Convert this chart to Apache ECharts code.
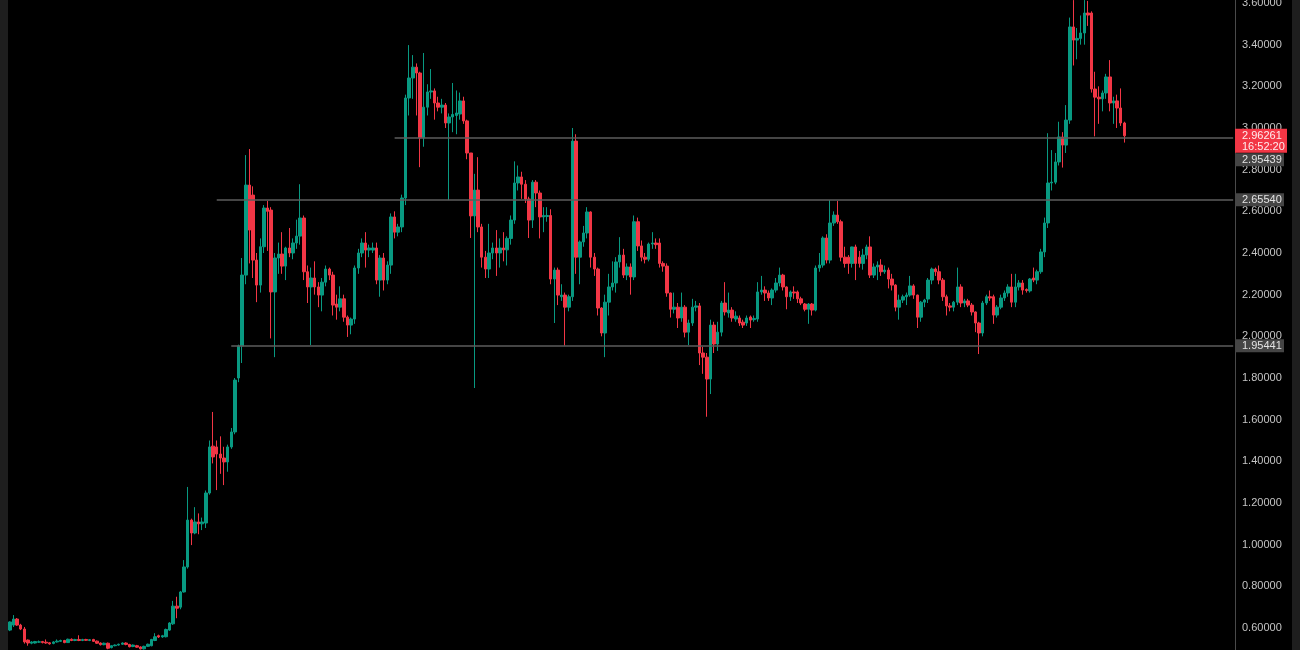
<!DOCTYPE html>
<html><head><meta charset="utf-8">
<script src="https://cdn.jsdelivr.net/npm/echarts/dist/echarts.min.js"></script>
<style>html,body{margin:0;padding:0;background:#000;overflow:hidden}#c{width:1300px;height:650px}</style>
</head><body><div id="c"></div>
<script>
const opens = [
0.590,0.614,0.643,0.614,0.595,0.542,0.527,0.528,0.532,0.535,
0.532,0.529,0.526,0.533,0.536,0.540,0.530,0.546,0.540,0.545,
0.540,0.545,0.540,0.545,0.537,0.528,0.520,0.527,0.506,0.515,
0.518,0.522,0.528,0.521,0.511,0.515,0.509,0.500,0.512,0.515,
0.540,0.563,0.557,0.558,0.590,0.620,0.705,0.700,0.773,0.893,
1.118,1.056,1.109,1.100,1.104,1.248,1.473,1.469,1.435,1.416,
1.397,1.469,1.541,1.800,1.954,2.294,2.726,2.678,2.366,2.246,
2.430,2.616,2.606,2.213,2.376,2.395,2.337,2.424,2.400,2.448,
2.481,2.568,2.310,2.237,2.280,2.237,2.198,2.260,2.323,2.294,
2.155,2.140,2.180,2.092,2.054,2.083,2.328,2.400,2.448,2.414,
2.414,2.424,2.270,2.376,2.270,2.342,2.573,2.500,2.525,2.664,
3.144,3.240,3.292,3.264,2.952,3.100,3.173,3.178,3.120,3.100,
3.110,3.024,3.053,3.060,3.067,3.130,3.034,2.880,2.578,2.702,
2.525,2.380,2.323,2.400,2.424,2.400,2.424,2.415,2.470,2.558,
2.736,2.765,2.730,2.659,2.558,2.740,2.688,2.573,2.575,2.580,
2.275,2.318,2.190,2.198,2.140,2.190,2.937,2.380,2.453,2.496,
2.597,2.380,2.323,2.136,2.016,2.164,2.237,2.256,2.357,2.390,
2.294,2.333,2.285,2.550,2.434,2.380,2.370,2.443,2.448,2.448,
2.350,2.337,2.208,2.130,2.140,2.088,2.140,2.020,2.064,2.140,
2.146,1.920,1.900,1.795,2.054,1.963,2.020,2.160,2.112,2.126,
2.083,2.088,2.068,2.064,2.093,2.080,2.083,2.213,2.222,2.208,
2.184,2.222,2.256,2.294,2.237,2.190,2.213,2.213,2.180,2.155,
2.130,2.155,2.126,2.328,2.342,2.472,2.366,2.544,2.582,2.550,
2.380,2.380,2.350,2.429,2.380,2.350,2.390,2.429,2.294,2.333,
2.342,2.310,2.318,2.275,2.246,2.140,2.174,2.190,2.198,2.242,
2.198,2.092,2.164,2.179,2.270,2.323,2.310,2.270,2.190,2.146,
2.140,2.164,2.237,2.160,2.170,2.150,2.117,2.064,2.016,2.160,
2.190,2.190,2.102,2.140,2.184,2.208,2.237,2.164,2.237,2.256,
2.225,2.218,2.280,2.270,2.310,2.405,2.544,2.736,2.740,2.837,
2.957,2.918,3.038,3.485,3.422,3.430,3.456,3.552,3.552,3.187,
3.148,3.140,3.168,3.245,3.120,3.130,3.096,3.024];
const closes = [
0.629,0.643,0.614,0.595,0.533,0.528,0.533,0.535,0.534,0.530,
0.528,0.524,0.533,0.537,0.540,0.530,0.546,0.540,0.545,0.540,
0.545,0.541,0.544,0.536,0.527,0.520,0.527,0.503,0.515,0.518,
0.522,0.528,0.521,0.510,0.518,0.508,0.500,0.512,0.522,0.545,
0.558,0.557,0.563,0.593,0.624,0.705,0.695,0.773,0.893,1.118,
1.056,1.109,1.100,1.109,1.248,1.469,1.421,1.435,1.416,1.397,
1.469,1.541,1.790,1.954,2.294,2.726,2.510,2.366,2.246,2.430,
2.616,2.600,2.213,2.376,2.395,2.337,2.424,2.400,2.448,2.481,
2.568,2.310,2.237,2.280,2.237,2.198,2.260,2.323,2.294,2.150,
2.140,2.180,2.092,2.054,2.083,2.328,2.400,2.448,2.414,2.424,
2.424,2.270,2.376,2.270,2.342,2.573,2.500,2.525,2.664,3.144,
3.240,3.292,3.264,2.952,3.100,3.173,3.178,3.120,3.100,3.110,
3.024,3.053,3.065,3.072,3.130,3.034,2.880,2.578,2.702,2.525,
2.380,2.323,2.400,2.424,2.400,2.424,2.415,2.470,2.558,2.736,
2.765,2.730,2.659,2.558,2.740,2.688,2.573,2.580,2.580,2.275,
2.318,2.198,2.198,2.140,2.190,2.937,2.380,2.453,2.496,2.597,
2.380,2.323,2.136,2.016,2.164,2.237,2.256,2.357,2.390,2.294,
2.333,2.285,2.550,2.434,2.380,2.370,2.443,2.448,2.440,2.350,
2.337,2.208,2.130,2.140,2.088,2.140,2.020,2.064,2.140,2.146,
1.920,1.900,1.795,2.054,1.963,2.020,2.160,2.117,2.126,2.088,
2.097,2.064,2.054,2.088,2.078,2.086,2.213,2.222,2.208,2.184,
2.222,2.256,2.294,2.237,2.190,2.213,2.208,2.180,2.160,2.130,
2.155,2.126,2.328,2.342,2.472,2.366,2.544,2.582,2.550,2.380,
2.350,2.350,2.429,2.350,2.350,2.390,2.429,2.294,2.333,2.342,
2.310,2.318,2.275,2.246,2.140,2.174,2.190,2.198,2.242,2.198,
2.092,2.164,2.174,2.270,2.323,2.310,2.270,2.190,2.146,2.140,
2.164,2.237,2.160,2.170,2.150,2.117,2.064,2.016,2.160,2.190,
2.184,2.102,2.140,2.184,2.208,2.237,2.164,2.237,2.256,2.222,
2.220,2.275,2.270,2.310,2.405,2.544,2.736,2.740,2.837,2.957,
2.918,3.038,3.485,3.422,3.430,3.456,3.552,3.542,3.187,3.148,
3.140,3.168,3.245,3.120,3.130,3.096,3.024,2.96261];
const lows = [
0.585,0.605,0.610,0.590,0.525,0.515,0.522,0.525,0.528,0.526,
0.524,0.520,0.522,0.530,0.533,0.527,0.528,0.537,0.537,0.537,
0.537,0.538,0.537,0.533,0.524,0.516,0.517,0.498,0.502,0.512,
0.515,0.519,0.517,0.507,0.508,0.505,0.497,0.497,0.509,0.512,
0.537,0.552,0.553,0.555,0.586,0.615,0.647,0.690,0.770,0.885,
0.998,1.050,1.050,1.070,1.080,1.240,1.390,1.262,1.340,1.286,
1.350,1.460,1.530,1.780,1.872,2.250,2.350,2.280,2.164,2.210,
2.400,2.410,1.990,1.900,2.300,2.300,2.270,2.380,2.370,2.420,
2.440,2.270,2.160,1.958,2.200,2.140,2.120,2.240,2.270,2.100,
2.080,2.120,2.070,1.997,2.010,2.060,2.300,2.380,2.330,2.380,
2.400,2.250,2.190,2.220,2.250,2.300,2.470,2.480,2.500,2.630,
3.060,3.140,3.060,2.812,2.910,3.060,3.140,3.040,3.080,3.070,
3.000,2.654,2.980,2.970,3.040,3.020,2.850,2.472,1.752,2.500,
2.330,2.280,2.280,2.370,2.290,2.330,2.360,2.340,2.440,2.540,
2.700,2.660,2.640,2.472,2.520,2.620,2.470,2.500,2.550,2.250,
2.064,2.150,2.170,1.955,2.120,2.170,2.300,2.250,2.430,2.470,
2.330,2.290,2.100,2.000,1.900,2.100,2.220,2.210,2.330,2.280,
2.270,2.200,2.270,2.410,2.360,2.350,2.360,2.420,2.420,2.330,
2.310,2.190,2.090,2.110,2.040,2.070,1.995,1.958,2.050,2.120,
1.862,1.820,1.614,1.723,1.920,1.930,2.000,2.100,2.090,2.070,
2.070,2.050,2.040,2.050,2.040,2.070,2.070,2.200,2.170,2.170,
2.150,2.210,2.240,2.220,2.130,2.170,2.180,2.160,2.150,2.120,
2.060,2.100,2.120,2.310,2.330,2.350,2.350,2.530,2.540,2.360,
2.330,2.300,2.330,2.270,2.330,2.320,2.370,2.280,2.280,2.270,
2.290,2.300,2.230,2.220,2.120,2.080,2.160,2.150,2.190,2.180,
2.040,2.070,2.140,2.160,2.250,2.290,2.250,2.170,2.100,2.120,
2.120,2.150,2.140,2.140,2.140,2.100,2.020,1.915,2.000,2.150,
2.170,2.060,2.090,2.130,2.170,2.190,2.140,2.140,2.220,2.200,
2.210,2.210,2.260,2.250,2.300,2.380,2.520,2.700,2.730,2.820,
2.810,2.880,3.020,3.300,3.330,3.400,3.400,3.490,3.170,2.960,
3.020,3.080,3.140,3.080,3.020,3.000,3.010,2.930];
const highs = [
0.632,0.662,0.648,0.620,0.605,0.545,0.537,0.538,0.540,0.538,
0.545,0.532,0.537,0.545,0.544,0.543,0.549,0.550,0.548,0.565,
0.548,0.548,0.547,0.548,0.540,0.531,0.530,0.530,0.517,0.521,
0.525,0.531,0.531,0.524,0.521,0.519,0.512,0.515,0.525,0.548,
0.575,0.568,0.567,0.597,0.628,0.730,0.750,0.778,0.926,1.277,
1.125,1.180,1.150,1.130,1.260,1.500,1.637,1.500,1.520,1.470,
1.480,1.560,1.800,1.960,2.376,2.870,2.899,2.720,2.400,2.470,
2.630,2.650,2.620,2.400,2.450,2.500,2.430,2.520,2.470,2.560,
2.730,2.580,2.340,2.330,2.360,2.260,2.280,2.340,2.330,2.310,
2.200,2.240,2.200,2.100,2.090,2.340,2.420,2.470,2.500,2.440,
2.450,2.450,2.390,2.400,2.360,2.590,2.600,2.540,2.680,3.160,
3.398,3.350,3.310,3.270,3.360,3.210,3.283,3.190,3.150,3.140,
3.120,3.070,3.216,3.180,3.170,3.150,3.040,2.880,2.780,2.860,
2.540,2.410,2.540,2.450,2.510,2.470,2.500,2.480,2.580,2.840,
2.820,2.790,2.750,2.670,2.750,2.750,2.700,2.620,2.620,2.610,
2.330,2.330,2.250,2.210,2.200,3.000,2.970,2.460,2.530,2.620,
2.600,2.400,2.330,2.140,2.200,2.300,2.360,2.380,2.476,2.420,
2.350,2.350,2.580,2.570,2.460,2.400,2.450,2.500,2.470,2.470,
2.360,2.350,2.210,2.210,2.160,2.210,2.150,2.080,2.180,2.170,
2.160,1.950,1.920,2.080,2.070,2.070,2.170,2.260,2.210,2.140,
2.120,2.100,2.080,2.100,2.100,2.100,2.260,2.290,2.240,2.220,
2.230,2.280,2.330,2.300,2.240,2.220,2.240,2.220,2.190,2.160,
2.160,2.160,2.340,2.400,2.480,2.490,2.654,2.600,2.650,2.560,
2.430,2.390,2.430,2.440,2.410,2.420,2.440,2.480,2.350,2.360,
2.370,2.340,2.330,2.300,2.250,2.200,2.200,2.210,2.290,2.250,
2.200,2.170,2.180,2.280,2.330,2.330,2.340,2.280,2.200,2.160,
2.170,2.330,2.250,2.180,2.180,2.160,2.120,2.070,2.170,2.200,
2.220,2.200,2.150,2.200,2.220,2.250,2.300,2.300,2.270,2.270,
2.230,2.280,2.330,2.320,2.420,2.570,2.975,2.894,2.880,3.030,
2.980,3.110,3.530,3.614,3.480,3.540,3.614,3.610,3.560,3.270,
3.200,3.180,3.260,3.326,3.150,3.160,3.190,3.030];

// horizontal levels and the bar index where each ray starts
const levels = [2.95439, 2.65540, 1.95441];
const levelStartBars = [106, 57, 61];
const lastPrice = 2.96261;
const countdown = '16:52:20';
const totalSlots = 338; // bars plus empty right margin

const categories = [];
for (let i = 0; i < totalSlots; i++) categories.push('B' + (i + 1));
const ohlc = opens.map((o, i) => [o, closes[i], lows[i], highs[i]]);

const UP = '#089981', DOWN = '#f23645';
const FONT = "'Liberation Sans', Arial, sans-serif";

const chart = echarts.init(document.getElementById('c'), null, {renderer: 'canvas'});
chart.setOption({
  backgroundColor: '#000000',
  animation: false,
  grid: {left: 8, right: 65, top: -38.667, bottom: -19.667, containLabel: false, outerBoundsMode: 'none'},
  xAxis: {type: 'category', data: categories, boundaryGap: true, show: false},
  yAxis: {
    type: 'value', position: 'right', min: 0.4, max: 3.8, interval: 0.2,
    axisLine: {show: true, lineStyle: {color: '#4a4a4a', width: 1}},
    axisTick: {show: false}, splitLine: {show: false},
    axisLabel: {color: '#c4c4c4', fontSize: 11, fontFamily: FONT, margin: 7,
      formatter: v => v.toFixed(5)}
  },
  series: [{
    type: 'candlestick', data: ohlc, barWidth: 3,
    itemStyle: {color: UP, color0: DOWN, borderColor: UP, borderColor0: DOWN, borderWidth: 1},
    markLine: {
      silent: true, symbol: ['none', 'none'], animation: false,
      label: {show: false},
      lineStyle: {color: '#5c5c5c', width: 1.5, type: 'solid'},
      data: levels.map((p, k) => [
        {coord: [categories[levelStartBars[k]], p]},
        {coord: [categories[totalSlots - 1], p]}
      ])
    }
  }]
});

const py = p => chart.convertToPixel({yAxisIndex: 0}, p);
const ax = 1235;
function grayBox(text, cy) {
  return [
    {type: 'rect', z: 100, shape: {x: ax, y: cy - 6.5, width: 49, height: 13}, style: {fill: '#454545'}},
    {type: 'text', z: 101, x: 1242, y: cy, style: {text: text, fill: '#e2e2e2', fontSize: 11, fontFamily: FONT, verticalAlign: 'middle', align: 'left'}}
  ];
}
const yLast = py(lastPrice);
const g = [
  {type: 'rect', z: 100, shape: {x: 0, y: 0, width: 8, height: 650}, style: {fill: '#1e1e1e'}},
  {type: 'rect', z: 100, shape: {x: 1292, y: 0, width: 8, height: 650}, style: {fill: '#1e1e1e'}},
  {type: 'rect', z: 100, shape: {x: ax, y: yLast - 7, width: 52, height: 24}, style: {fill: '#f23645'}},
  {type: 'text', z: 101, x: 1242, y: yLast + 0.5, style: {text: lastPrice.toFixed(5), fill: '#ffecee', fontSize: 11, fontFamily: FONT, verticalAlign: 'middle', align: 'left'}},
  {type: 'text', z: 101, x: 1242, y: yLast + 11, style: {text: countdown, fill: '#ffecee', fontSize: 11, fontFamily: FONT, verticalAlign: 'middle', align: 'left'}}
];
// first level label is pushed below the last-price box
g.push(...grayBox(levels[0].toFixed(5), yLast + 24));
g.push(...grayBox(levels[1].toFixed(5), py(levels[1])));
g.push(...grayBox(levels[2].toFixed(5), py(levels[2])));
chart.setOption({graphic: g});
</script>
</body></html>
